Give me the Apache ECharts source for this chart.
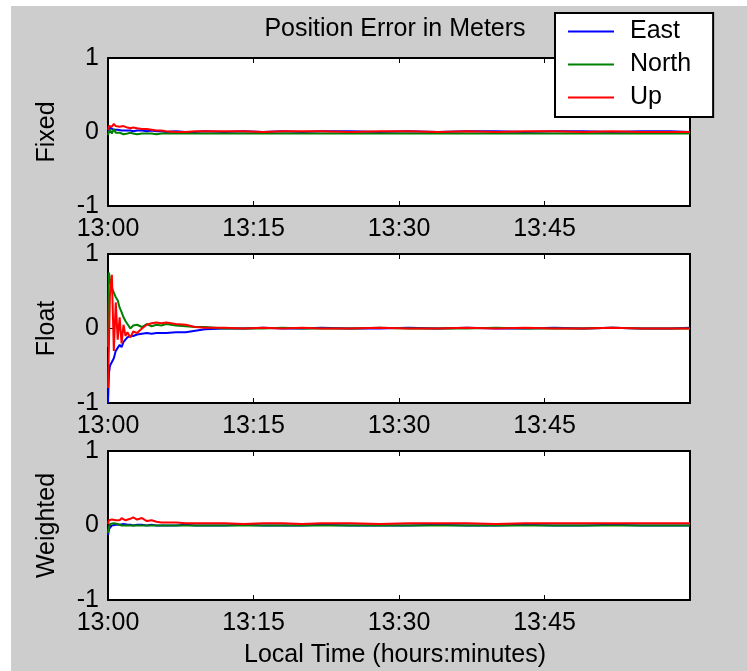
<!DOCTYPE html>
<html>
<head>
<meta charset="utf-8">
<script src="https://cdn.jsdelivr.net/npm/echarts@6/dist/echarts.min.js"></script>
<style>
html,body{margin:0;padding:0;background:#fff;}
#wrap{position:relative;width:747px;height:671px;}
#bg{position:absolute;left:11px;top:6px;width:736px;height:665px;background:#cdcdcd;}
#chart{position:absolute;left:0;top:0;width:747px;height:671px;}
</style>
</head>
<body>
<div id="wrap"><div id="bg"></div><div id="chart"></div></div>
<script>
// Time in minutes after 13:00
const timeMin = [0, 0.1, 0.2, 0.4, 0.6, 0.8, 1.0, 1.2, 1.4, 1.6, 1.8, 2.0, 2.3, 2.6, 3.0, 3.5, 4.0, 4.5, 5.0, 5.5, 6, 7, 8, 9, 10, 12, 14, 16, 18, 20, 22, 25, 28, 31, 34, 37, 40, 43, 46, 49, 52, 55, 58, 60];
const xTickLabels = ['13:00', '13:15', '13:30', '13:45'];
const yTickLabels = ['-1', '0', '1'];
const panelNames = ['Fixed', 'Float', 'Weighted'];
const seriesNames = ['East', 'North', 'Up'];

const fixedEast  = [0.00,0.03,0.06,0.04,0.03,0.02,0.03,0.02,0.02,0.03, 0.02,0.02,0.02,0.01,0.02,0.02,0.01,0.02,0.01,0.01, 0.00,0.01,0.00,0.00,0.01,0.00,0.01,0.00,0.01,0.00, 0.01,0.01,0.00,0.01,0.00,0.01,0.01,0.00,0.01,0.01, 0.00,0.01,0.01,0.00];
const fixedNorth = [-0.04,0.00,0.03,-0.02,0.04,-0.01,-0.02,-0.01,-0.02,-0.03, -0.02,-0.02,-0.01,-0.02,-0.03,-0.02,-0.02,-0.02,-0.03,-0.02, -0.02,-0.02,-0.02,-0.02,-0.02,-0.02,-0.02,-0.02,-0.02,-0.02, -0.02,-0.02,-0.02,-0.02,-0.02,-0.02,-0.02,-0.02,-0.02,-0.02, -0.02,-0.02,-0.02,-0.02];
const fixedUp    = [0.03,0.08,0.10,0.07,0.11,0.08,0.06,0.07,0.06,0.08, 0.07,0.06,0.05,0.06,0.05,0.04,0.04,0.03,0.02,0.02, 0.01,0.00,0.00,0.01,0.01,0.01,0.01,0.00,0.01,0.01, 0.01,0.00,0.01,0.01,0.00,0.01,0.00,0.01,0.01,0.00, 0.01,0.00,0.00,0.00];

const floatEast  = [-1.00,-0.60,-0.50,-0.45,-0.40,-0.30,-0.32,-0.22,-0.25,-0.18, -0.15,-0.12,-0.10,-0.10,-0.08,-0.07,-0.06,-0.07,-0.06,-0.06, -0.06,-0.05,-0.05,-0.03,-0.01,0.00,0.00,0.01,0.00,0.00, 0.01,0.00,0.00,0.01,0.00,0.01,0.00,0.00,0.01,0.00, 0.01,0.00,0.00,0.01];
const floatNorth = [-0.25,0.75,0.65,0.55,0.48,0.42,0.38,0.28,0.22,0.15, 0.10,0.06,0.00,0.04,0.05,0.02,0.06,0.03,0.05,0.04, 0.06,0.04,0.03,0.02,0.02,0.00,0.00,0.00,0.01,0.00, 0.00,0.00,0.01,0.00,0.00,0.00,0.01,0.00,0.00,0.00, 0.01,0.00,0.00,0.00];
const floatUp    = [-0.80,-0.20,0.45,0.72,-0.30,0.35,-0.15,0.15,-0.20,0.05, -0.10,-0.05,-0.12,-0.04,-0.06,0.00,0.05,0.07,0.08,0.07, 0.08,0.06,0.05,0.02,0.01,0.01,0.00,0.01,0.00,0.01, 0.00,0.00,0.01,0.00,0.00,0.01,0.00,0.01,0.00,0.00, 0.01,0.00,0.00,0.00];

const weightedEast  = [-0.13,-0.05,-0.03,0.00,0.02,0.01,0.02,0.01,0.01,0.02, 0.01,0.01,0.01,0.00,0.01,0.01,0.00,0.01,0.00,0.00, 0.00,0.00,0.01,0.00,0.00,0.00,0.01,0.00,0.00,0.00, 0.01,0.00,0.00,0.00,0.01,0.00,0.00,0.01,0.00,0.00, 0.01,0.00,0.00,0.00];
const weightedNorth = [-0.10,-0.02,0.02,0.04,0.03,0.01,0.02,0.01,0.00,0.01, 0.00,0.01,0.00,0.00,0.00,0.00,0.00,0.00,0.00,0.00, 0.00,0.00,0.00,0.00,0.00,0.00,0.00,0.00,0.00,0.00, 0.00,0.00,0.00,0.00,0.00,0.00,0.00,0.00,0.00,0.00, 0.00,0.00,0.00,0.00];
const weightedUp    = [0.02,0.07,0.05,0.08,0.06,0.07,0.08,0.07,0.10,0.08, 0.07,0.06,0.09,0.11,0.08,0.10,0.06,0.07,0.05,0.04, 0.04,0.04,0.03,0.03,0.03,0.03,0.02,0.03,0.03,0.02, 0.03,0.03,0.02,0.03,0.03,0.03,0.02,0.03,0.03,0.03, 0.03,0.03,0.03,0.03];

const panelData = [
  [fixedEast, fixedNorth, fixedUp],
  [floatEast, floatNorth, floatUp],
  [weightedEast, weightedNorth, weightedUp]
];
const colors = ['#0000ff', '#008000', '#ff0000'];

const FONT = '"Liberation Sans", Arial, sans-serif';
const gridTops = [58, 254, 451];
const gridHeights = [148, 149, 149];

const grids = [], xAxes = [], yAxes = [], series = [];
gridTops.forEach((top, i) => {
  grids.push({left: 108, top: top, width: 582, height: gridHeights[i], show: true, backgroundColor: '#fff', borderWidth: 0});
  const axLine = {show: true, onZero: false, lineStyle: {color: '#000', width: 2}};
  const tick = {show: true, inside: true, length: 5, lineStyle: {color: '#000', width: 1}};
  xAxes.push({
    gridIndex: i, type: 'value', min: 0, max: 60, interval: 15, position: 'bottom',
    axisLine: axLine, axisTick: tick, splitLine: {show: false},
    axisLabel: {show: true, margin: 11, color: '#000', fontSize: 25, fontFamily: FONT,
      formatter: v => xTickLabels[Math.round(v / 15)] || ''}
  });
  xAxes.push({
    gridIndex: i, type: 'value', min: 0, max: 60, interval: 15, position: 'top',
    axisLine: axLine, axisTick: tick, splitLine: {show: false}, axisLabel: {show: false}
  });
  yAxes.push({
    gridIndex: i, type: 'value', min: -1, max: 1, interval: 1, position: 'left',
    axisLine: axLine, axisTick: tick, splitLine: {show: false},
    axisLabel: {margin: 9, color: '#000', fontSize: 25, fontFamily: FONT,
      formatter: v => yTickLabels[Math.round(v) + 1]},
    name: panelNames[i], nameLocation: 'middle', nameGap: 48,
    nameTextStyle: {color: '#000', fontSize: 25, fontFamily: FONT}
  });
  yAxes.push({
    gridIndex: i, type: 'value', min: -1, max: 1, interval: 1, position: 'right',
    axisLine: axLine, axisTick: tick, splitLine: {show: false}, axisLabel: {show: false}
  });
  panelData[i].forEach((arr, s) => {
    series.push({
      name: seriesNames[s], type: 'line', xAxisIndex: i * 2, yAxisIndex: i * 2,
      showSymbol: false, symbol: 'none', color: colors[s],
      lineStyle: {color: colors[s], width: 2},
      data: timeMin.map((t, k) => [t, arr[k]]),
      z: 3 + s
    });
  });
});

const chart = echarts.init(document.getElementById('chart'), null, {renderer: 'canvas'});
chart.setOption({
  animation: false,
  backgroundColor: 'transparent',
  grid: grids, xAxis: xAxes, yAxis: yAxes, series: series,
  legend: {
    data: seriesNames, orient: 'vertical', left: 555, top: 13,
    padding: [6, 22, 7, 13], itemGap: 8, itemWidth: 46, itemHeight: 2, icon: 'rect',
    backgroundColor: '#fff', borderColor: '#000', borderWidth: 2, borderRadius: 0,
    textStyle: {color: '#000', fontSize: 25, fontFamily: FONT, lineHeight: 25, padding: [0, 0, 0, 11]}
  },
  graphic: [
    {type: 'text', x: 395, y: 29, style: {text: 'Position Error in Meters', fill: '#000', font: '25px ' + FONT, textAlign: 'center', textVerticalAlign: 'middle'}},
    {type: 'text', x: 395, y: 655, style: {text: 'Local Time (hours:minutes)', fill: '#000', font: '25px ' + FONT, textAlign: 'center', textVerticalAlign: 'middle'}}
  ]
});
</script>
</body>
</html>
